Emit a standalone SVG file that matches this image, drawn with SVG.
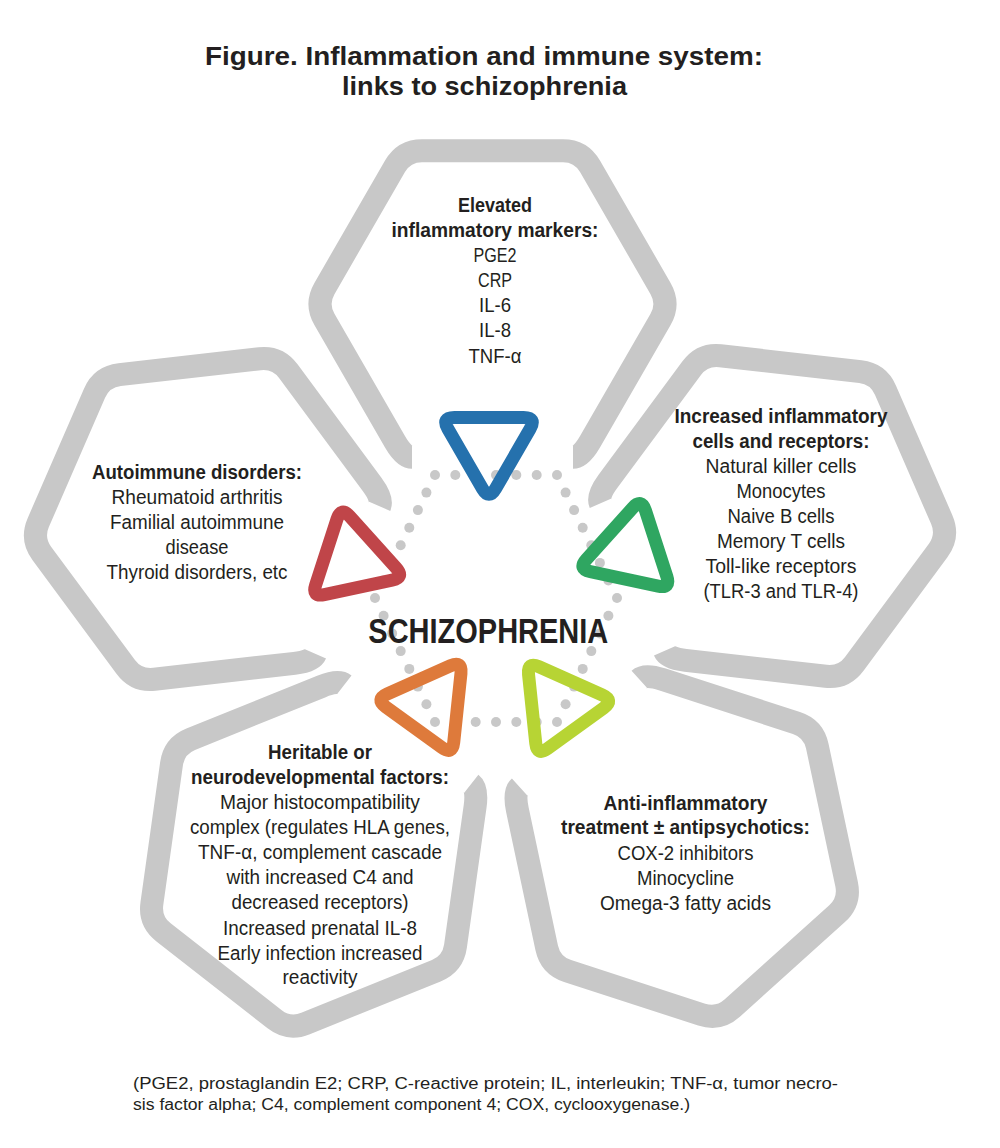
<svg xmlns="http://www.w3.org/2000/svg" xmlns:xlink="http://www.w3.org/1999/xlink" width="1000" height="1148" viewBox="0 0 1000 1148">
<style>
.hex{fill:none;stroke:#c8c8c8;stroke-width:23;stroke-linecap:butt;stroke-linejoin:round}
.tri{fill:none;stroke-width:13;stroke-linejoin:round}
.dot{fill:#c8c8c8}
.t{font-family:'Liberation Sans Narrow','Liberation Sans',Arial,sans-serif;font-size:20px;fill:#231f20;text-anchor:middle}
.b{font-weight:bold}
.title{font-family:'Liberation Sans',Arial,sans-serif;font-size:26px;font-weight:bold;fill:#231f20;text-anchor:middle}
.foot{font-family:'Liberation Sans',Arial,sans-serif;font-size:16px;fill:#231f20}
</style>
<defs>
<path id="hex" d="M-80.5,153.3 Q-88.5,153.3 -97.5,137.7 L-168,15.6 Q-177,0 -168,-15.6 L-97.5,-137.7 Q-88.5,-153.3 -70.5,-153.3 L70.5,-153.3 Q88.5,-153.3 97.5,-137.7 L168,-15.6 Q177,0 168,15.6 L97.5,137.7 Q88.5,153.3 80.5,153.3"/>
<path id="tri" d="M-6.5,43.74 L-41.13,-16.24 Q-47.63,-27.5 -34.63,-27.5 L34.63,-27.5 Q47.63,-27.5 41.13,-16.24 L6.5,43.74 Q0,55 -6.5,43.74 Z"/>
</defs>
<rect width="1000" height="1148" fill="#ffffff"/>

<g id="title">
<text class="title" x="484" y="65" textLength="558" lengthAdjust="spacingAndGlyphs">Figure. Inflammation and immune system:</text>
<text class="title" x="484.5" y="95" textLength="285" lengthAdjust="spacingAndGlyphs">links to schizophrenia</text>
</g>

<g id="node-elevated-markers">
<use href="#hex" class="hex" transform="translate(492.5,304)"/>
<text class="t b" x="495" y="212" textLength="74" lengthAdjust="spacingAndGlyphs">Elevated</text>
<text class="t b" x="495" y="237" textLength="207" lengthAdjust="spacingAndGlyphs">inflammatory markers:</text>
<text class="t" x="495" y="262" textLength="43" lengthAdjust="spacingAndGlyphs">PGE2</text>
<text class="t" x="495" y="287" textLength="34" lengthAdjust="spacingAndGlyphs">CRP</text>
<text class="t" x="495" y="312" textLength="32" lengthAdjust="spacingAndGlyphs">IL-6</text>
<text class="t" x="495" y="337" textLength="32" lengthAdjust="spacingAndGlyphs">IL-8</text>
<text class="t" x="495" y="362.5" textLength="53" lengthAdjust="spacingAndGlyphs">TNF-α</text>
</g>

<g id="node-inflammatory-cells">
<use href="#hex" class="hex" transform="translate(773,516) rotate(66.5)"/>
<text class="t b" x="781" y="423" textLength="213" lengthAdjust="spacingAndGlyphs">Increased inflammatory</text>
<text class="t b" x="781" y="448" textLength="177" lengthAdjust="spacingAndGlyphs">cells and receptors:</text>
<text class="t" x="781" y="473" textLength="151" lengthAdjust="spacingAndGlyphs">Natural killer cells</text>
<text class="t" x="781" y="498" textLength="89" lengthAdjust="spacingAndGlyphs">Monocytes</text>
<text class="t" x="781" y="523" textLength="107" lengthAdjust="spacingAndGlyphs">Naive B cells</text>
<text class="t" x="781" y="548" textLength="128" lengthAdjust="spacingAndGlyphs">Memory T cells</text>
<text class="t" x="781" y="573" textLength="151" lengthAdjust="spacingAndGlyphs">Toll-like receptors</text>
<text class="t" x="781" y="598" textLength="155" lengthAdjust="spacingAndGlyphs">(TLR-3 and TLR-4)</text>
</g>

<g id="node-anti-inflammatory">
<use href="#hex" class="hex" transform="translate(682,847) rotate(138)"/>
<text class="t b" x="685.5" y="810" textLength="164" lengthAdjust="spacingAndGlyphs">Anti-inflammatory</text>
<text class="t b" x="685.5" y="834" textLength="249" lengthAdjust="spacingAndGlyphs">treatment ± antipsychotics:</text>
<text class="t" x="685.5" y="860" textLength="136" lengthAdjust="spacingAndGlyphs">COX-2 inhibitors</text>
<text class="t" x="685.5" y="885" textLength="97" lengthAdjust="spacingAndGlyphs">Minocycline</text>
<text class="t" x="685.5" y="910" textLength="171" lengthAdjust="spacingAndGlyphs">Omega-3 fatty acids</text>
</g>

<g id="node-heritable">
<use href="#hex" class="hex" transform="translate(313.5,855) rotate(218)"/>
<text class="t b" x="320" y="759" textLength="104" lengthAdjust="spacingAndGlyphs">Heritable or</text>
<text class="t b" x="320" y="784" textLength="258" lengthAdjust="spacingAndGlyphs">neurodevelopmental factors:</text>
<text class="t" x="320" y="809" textLength="200" lengthAdjust="spacingAndGlyphs">Major histocompatibility</text>
<text class="t" x="320" y="834" textLength="260" lengthAdjust="spacingAndGlyphs">complex (regulates HLA genes,</text>
<text class="t" x="320" y="859" textLength="244" lengthAdjust="spacingAndGlyphs">TNF-α, complement cascade</text>
<text class="t" x="320" y="884" textLength="187" lengthAdjust="spacingAndGlyphs">with increased C4 and</text>
<text class="t" x="320" y="909" textLength="177" lengthAdjust="spacingAndGlyphs">decreased receptors)</text>
<text class="t" x="320" y="935" textLength="194" lengthAdjust="spacingAndGlyphs">Increased prenatal IL-8</text>
<text class="t" x="320" y="960" textLength="205" lengthAdjust="spacingAndGlyphs">Early infection increased</text>
<text class="t" x="320" y="984" textLength="75" lengthAdjust="spacingAndGlyphs">reactivity</text>
</g>

<g id="node-autoimmune">
<use href="#hex" class="hex" transform="translate(207,519) rotate(-66.5)"/>
<text class="t b" x="197" y="479" textLength="210" lengthAdjust="spacingAndGlyphs">Autoimmune disorders:</text>
<text class="t" x="197" y="504" textLength="171" lengthAdjust="spacingAndGlyphs">Rheumatoid arthritis</text>
<text class="t" x="197" y="529" textLength="174" lengthAdjust="spacingAndGlyphs">Familial autoimmune</text>
<text class="t" x="197" y="554" textLength="63" lengthAdjust="spacingAndGlyphs">disease</text>
<text class="t" x="197" y="579" textLength="181" lengthAdjust="spacingAndGlyphs">Thyroid disorders, etc</text>
</g>

<g id="connectors">
<g id="dotted-ring">
<circle class="dot" cx="435" cy="475" r="5"/><circle class="dot" cx="455.3" cy="475" r="5"/><circle class="dot" cx="475.7" cy="475" r="5"/><circle class="dot" cx="496" cy="475" r="5"/><circle class="dot" cx="516.3" cy="475" r="5"/><circle class="dot" cx="536.7" cy="475" r="5"/><circle class="dot" cx="557" cy="475" r="5"/>
<circle class="dot" cx="565.6" cy="492.6" r="5"/><circle class="dot" cx="574.1" cy="510.1" r="5"/><circle class="dot" cx="582.7" cy="527.7" r="5"/><circle class="dot" cx="591.3" cy="545.3" r="5"/><circle class="dot" cx="599.9" cy="562.9" r="5"/><circle class="dot" cx="608.4" cy="580.4" r="5"/><circle class="dot" cx="617" cy="598" r="5"/>
<circle class="dot" cx="608.4" cy="615.7" r="5"/><circle class="dot" cx="599.9" cy="633.4" r="5"/><circle class="dot" cx="591.3" cy="651.1" r="5"/><circle class="dot" cx="582.7" cy="668.9" r="5"/><circle class="dot" cx="574.1" cy="686.6" r="5"/><circle class="dot" cx="565.6" cy="704.3" r="5"/><circle class="dot" cx="557" cy="722" r="5"/>
<circle class="dot" cx="536.7" cy="722" r="5"/><circle class="dot" cx="516.3" cy="722" r="5"/><circle class="dot" cx="496" cy="722" r="5"/><circle class="dot" cx="475.7" cy="722" r="5"/><circle class="dot" cx="455.3" cy="722" r="5"/><circle class="dot" cx="435" cy="722" r="5"/>
<circle class="dot" cx="426.4" cy="704.3" r="5"/><circle class="dot" cx="417.9" cy="686.6" r="5"/><circle class="dot" cx="409.3" cy="668.9" r="5"/><circle class="dot" cx="400.7" cy="651.1" r="5"/><circle class="dot" cx="392.1" cy="633.4" r="5"/><circle class="dot" cx="383.6" cy="615.7" r="5"/><circle class="dot" cx="375" cy="598" r="5"/>
<circle class="dot" cx="383.6" cy="580.4" r="5"/><circle class="dot" cx="392.1" cy="562.9" r="5"/><circle class="dot" cx="400.7" cy="545.3" r="5"/><circle class="dot" cx="409.3" cy="527.7" r="5"/><circle class="dot" cx="417.9" cy="510.1" r="5"/><circle class="dot" cx="426.4" cy="492.6" r="5"/>
</g>
<g id="triangles">
<use href="#tri" class="tri" stroke="#2571ad" transform="translate(489,445)"/>
<use href="#tri" class="tri" stroke="#2fa661" transform="translate(630,552) rotate(72)"/>
<use href="#tri" class="tri" stroke="#b7d434" transform="translate(559.5,706) rotate(144)"/>
<use href="#tri" class="tri" stroke="#de7a3b" transform="translate(430,705) rotate(-144)"/>
<use href="#tri" class="tri" stroke="#c04549" transform="translate(352.5,560.5) rotate(-72)"/>
</g>
</g>

<g id="node-schizophrenia">
<text class="t b" x="488.3" y="643" style="font-size:35px" textLength="240" lengthAdjust="spacingAndGlyphs">SCHIZOPHRENIA</text>
</g>

<g id="footnote">
<text class="foot" x="133" y="1089" textLength="705" lengthAdjust="spacingAndGlyphs">(PGE2, prostaglandin E2; CRP, C-reactive protein; IL, interleukin; TNF-α, tumor necro-</text>
<text class="foot" x="133" y="1110" textLength="557" lengthAdjust="spacingAndGlyphs">sis factor alpha; C4, complement component 4; COX, cyclooxygenase.)</text>
</g>
</svg>
